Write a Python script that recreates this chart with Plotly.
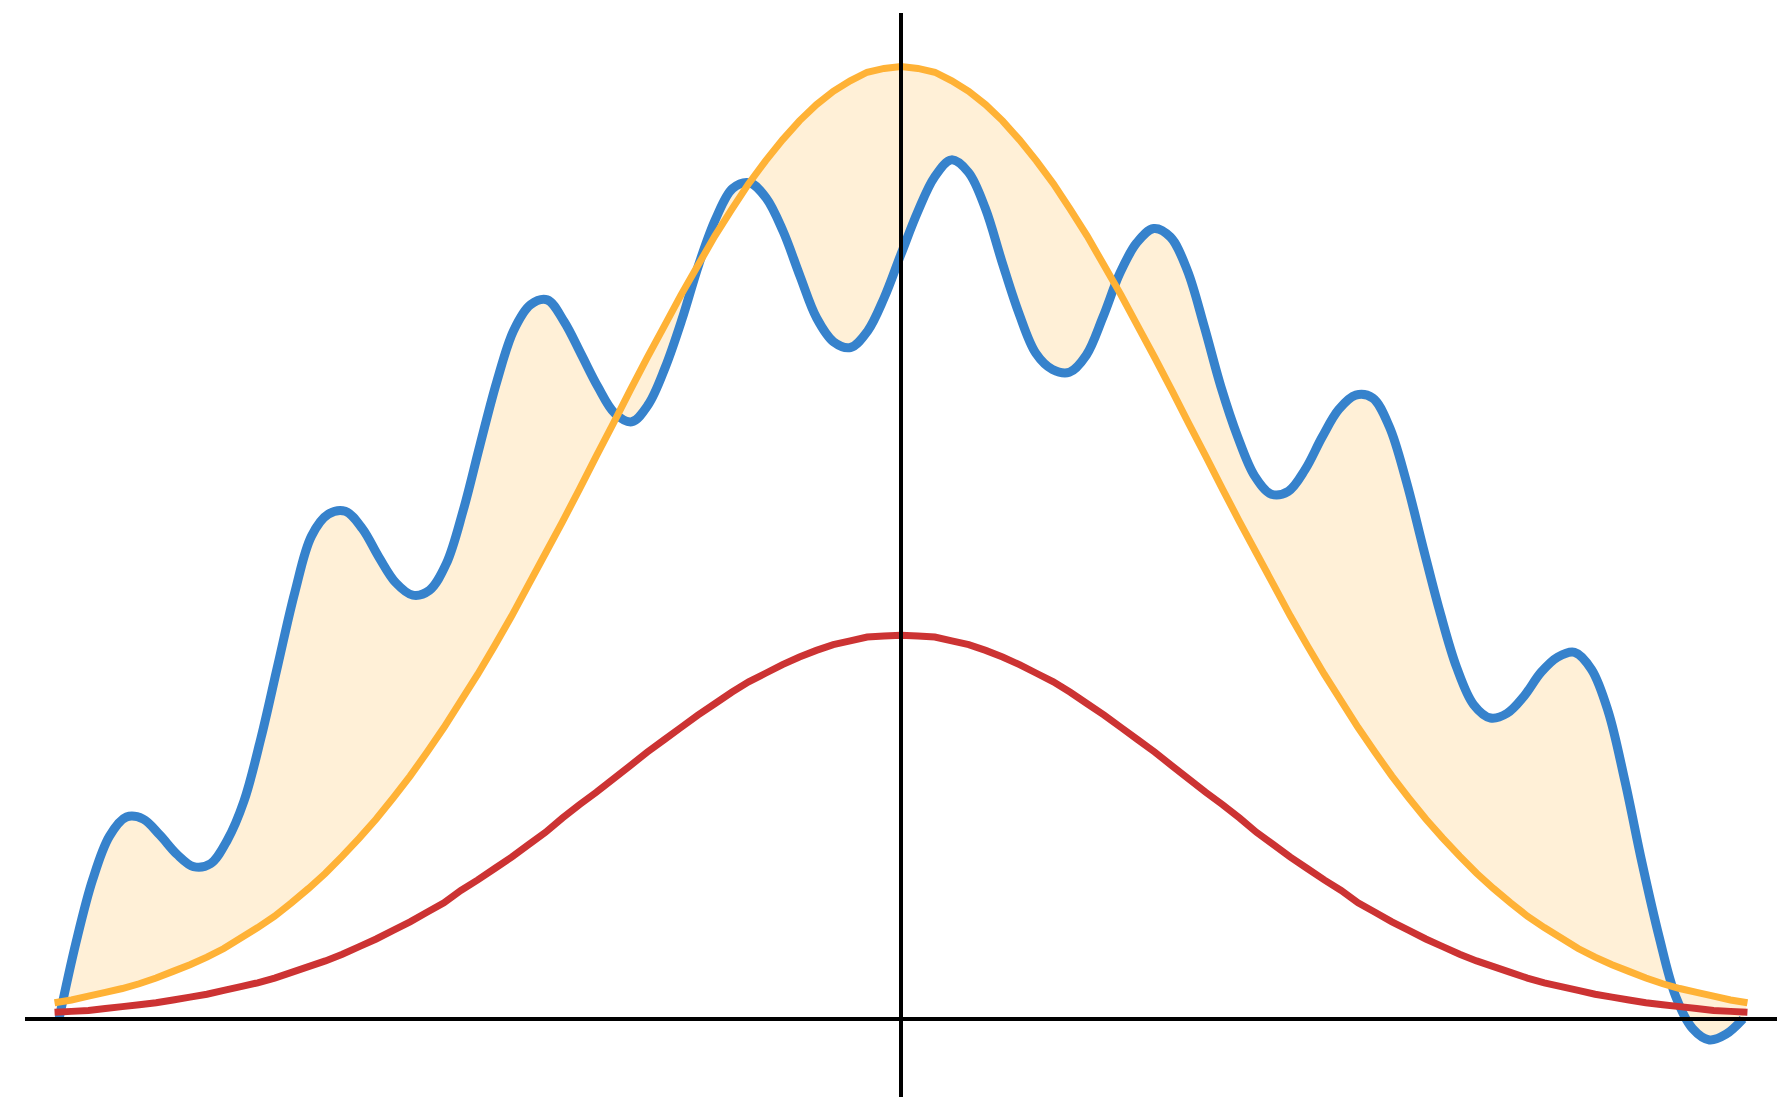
import plotly.graph_objects as go

# ---- data ----
grid_x = [-2.85, -2.793, -2.736, -2.679, -2.622, -2.565, -2.508, -2.451, -2.394, -2.337,
          -2.28, -2.223, -2.166, -2.109, -2.052, -1.995, -1.938, -1.881, -1.824, -1.767,
          -1.71, -1.653, -1.596, -1.539, -1.482, -1.425, -1.368, -1.311, -1.254, -1.197,
          -1.14, -1.083, -1.026, -0.969, -0.912, -0.855, -0.798, -0.741, -0.684, -0.627,
          -0.57, -0.513, -0.456, -0.399, -0.342, -0.285, -0.228, -0.171, -0.114, -0.057,
          0.0, 0.057, 0.114, 0.171, 0.228, 0.285, 0.342, 0.399, 0.456, 0.513,
          0.57, 0.627, 0.684, 0.741, 0.798, 0.855, 0.912, 0.969, 1.026, 1.083,
          1.14, 1.197, 1.254, 1.311, 1.368, 1.425, 1.482, 1.539, 1.596, 1.653,
          1.71, 1.767, 1.824, 1.881, 1.938, 1.995, 2.052, 2.109, 2.166, 2.223,
          2.28, 2.337, 2.394, 2.451, 2.508, 2.565, 2.622, 2.679, 2.736, 2.793, 2.85]

orange_y = [0.017, 0.020, 0.024, 0.028, 0.032, 0.037, 0.043, 0.050, 0.057, 0.065,
            0.074, 0.085, 0.096, 0.108, 0.122, 0.137, 0.153, 0.171, 0.190, 0.210,
            0.232, 0.255, 0.280, 0.306, 0.334, 0.362, 0.392, 0.423, 0.456, 0.489,
            0.522, 0.556, 0.591, 0.625, 0.660, 0.694, 0.727, 0.760, 0.791, 0.822,
            0.850, 0.877, 0.901, 0.923, 0.943, 0.960, 0.974, 0.985, 0.994, 0.998,
            1.000, 0.998, 0.994, 0.985, 0.974, 0.960, 0.943, 0.923, 0.901, 0.877,
            0.850, 0.822, 0.791, 0.760, 0.727, 0.694, 0.660, 0.625, 0.591, 0.556,
            0.522, 0.489, 0.456, 0.423, 0.392, 0.362, 0.334, 0.306, 0.280, 0.255,
            0.232, 0.210, 0.190, 0.171, 0.153, 0.137, 0.122, 0.108, 0.096, 0.085,
            0.074, 0.065, 0.057, 0.050, 0.043, 0.037, 0.032, 0.028, 0.024, 0.020, 0.017]

red_y = [0.007, 0.008, 0.009, 0.011, 0.013, 0.015, 0.017, 0.020, 0.023, 0.026,
         0.030, 0.034, 0.038, 0.043, 0.049, 0.055, 0.061, 0.068, 0.076, 0.084,
         0.093, 0.102, 0.112, 0.122, 0.135, 0.146, 0.158, 0.170, 0.183, 0.196,
         0.211, 0.225, 0.238, 0.252, 0.266, 0.280, 0.293, 0.306, 0.319, 0.331,
         0.343, 0.354, 0.363, 0.372, 0.380, 0.387, 0.393, 0.397, 0.401, 0.402,
         0.403, 0.402, 0.401, 0.397, 0.393, 0.387, 0.380, 0.372, 0.363, 0.354,
         0.343, 0.331, 0.319, 0.306, 0.293, 0.280, 0.266, 0.252, 0.238, 0.225,
         0.211, 0.196, 0.183, 0.170, 0.158, 0.146, 0.135, 0.122, 0.112, 0.102,
         0.093, 0.084, 0.076, 0.068, 0.061, 0.055, 0.049, 0.043, 0.038, 0.034,
         0.030, 0.026, 0.023, 0.020, 0.017, 0.015, 0.013, 0.011, 0.009, 0.008, 0.007]

blue_x = [-2.835, -2.778, -2.722, -2.665, -2.608, -2.552, -2.495, -2.438, -2.382, -2.325,
          -2.268, -2.212, -2.155, -2.098, -2.041, -1.985, -1.928, -1.871, -1.814, -1.758,
          -1.701, -1.644, -1.588, -1.531, -1.474, -1.418, -1.361, -1.304, -1.247, -1.191,
          -1.134, -1.077, -1.021, -0.964, -0.907, -0.851, -0.794, -0.737, -0.680, -0.624,
          -0.567, -0.510, -0.454, -0.397, -0.340, -0.284, -0.227, -0.170, -0.113, -0.057,
          0.000, 0.057, 0.113, 0.170, 0.227, 0.284, 0.340, 0.397, 0.454, 0.510,
          0.567, 0.624, 0.680, 0.737, 0.794, 0.851, 0.907, 0.964, 1.021, 1.077,
          1.134, 1.191, 1.247, 1.304, 1.361, 1.418, 1.474, 1.531, 1.588, 1.644,
          1.701, 1.758, 1.814, 1.871, 1.928, 1.985, 2.041, 2.098, 2.155, 2.211,
          2.268, 2.325, 2.381, 2.438, 2.495, 2.552, 2.608, 2.665, 2.722, 2.778,
          2.835]

blue_y = [0.000, 0.080, 0.146, 0.192, 0.212, 0.210, 0.193, 0.173, 0.160, 0.163,
          0.188, 0.229, 0.295, 0.372, 0.448, 0.507, 0.530, 0.533, 0.515, 0.485,
          0.458, 0.445, 0.450, 0.478, 0.534, 0.602, 0.669, 0.723, 0.750, 0.755,
          0.732, 0.698, 0.664, 0.636, 0.627, 0.645, 0.684, 0.735, 0.793, 0.840,
          0.872, 0.878, 0.862, 0.827, 0.780, 0.736, 0.711, 0.705, 0.722, 0.757,
          0.803, 0.848, 0.884, 0.902, 0.889, 0.851, 0.795, 0.741, 0.699, 0.682,
          0.679, 0.697, 0.737, 0.783, 0.815, 0.830, 0.821, 0.786, 0.727, 0.664,
          0.611, 0.570, 0.551, 0.554, 0.577, 0.611, 0.640, 0.655, 0.652, 0.622,
          0.565, 0.495, 0.428, 0.369, 0.330, 0.316, 0.321, 0.339, 0.364, 0.380,
          0.385, 0.367, 0.323, 0.249, 0.164, 0.087, 0.024, -0.010, -0.022, -0.016,
          0.000]

BLUE = "rgb(54,130,204)"
ORANGE = "rgb(255,178,54)"
RED = "rgb(204,51,51)"
FILL = "rgba(255,178,54,0.2)"

fig = go.Figure()
fig.add_trace(go.Scatter(x=blue_x, y=blue_y, mode="lines",
                         line=dict(color=BLUE, width=9, shape="spline", smoothing=1.0,
                                   simplify=False),
                         showlegend=False, hoverinfo="skip"))
fig.add_trace(go.Scatter(x=grid_x, y=orange_y, mode="lines", fill="tonexty",
                         fillcolor=FILL, line=dict(color=ORANGE, width=7, simplify=False),
                         showlegend=False, hoverinfo="skip"))
fig.add_trace(go.Scatter(x=grid_x, y=red_y, mode="lines",
                         line=dict(color=RED, width=7, simplify=False),
                         showlegend=False, hoverinfo="skip"))

axis_common = dict(showgrid=False, zeroline=False, showticklabels=False,
                   ticks="", showline=False, fixedrange=True)
fig.update_xaxes(range=[-2.9495, 2.9495], **axis_common)
fig.update_yaxes(range=[-0.0819, 1.0562], **axis_common)

# axis lines through the origin, drawn above the curves
fig.add_shape(type="line", xref="paper", yref="y", x0=0, x1=1, y0=0, y1=0,
              line=dict(color="black", width=4), layer="above")
fig.add_shape(type="line", xref="x", yref="paper", x0=0, x1=0, y0=0, y1=1,
              line=dict(color="black", width=4), layer="above")

# the page body adds an 8px offset, so the figure is sized to fit the window
fig.update_layout(width=1780, height=1089,
                  margin=dict(l=17, r=11, t=5, b=0, pad=0),
                  paper_bgcolor="white", plot_bgcolor="white")

fig.write_html("out.html")
